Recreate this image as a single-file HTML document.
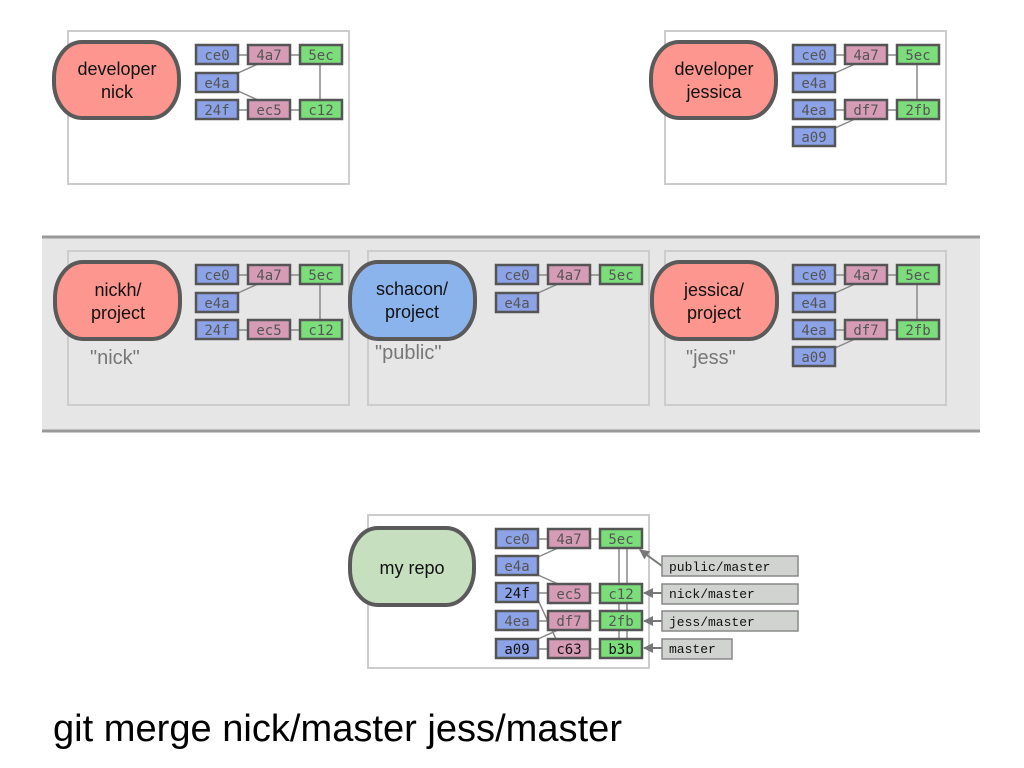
<!DOCTYPE html>
<html><head><meta charset="utf-8"><style>
html,body{margin:0;padding:0;background:#fff;width:1024px;height:768px;overflow:hidden}
svg{display:block}
.c text{font-family:"DejaVu Sans Mono","Liberation Mono",monospace;font-size:14px;fill:#555;text-anchor:middle}
.b{fill:#8ca3e8}.p{fill:#d69cb6}.g{fill:#7bde7b}
.c rect{stroke:#555;stroke-width:2.5}
.ln{stroke:#888;stroke-width:1.5;fill:none}
.blob{stroke:#5a5a5a;stroke-width:4}
.bt{font-family:"Liberation Sans",sans-serif;font-size:18px;fill:#111;text-anchor:middle}
.q{font-family:"Liberation Sans",sans-serif;font-size:20px;fill:#777}
.pan{fill:none;stroke:#ccc;stroke-width:2}
.lab rect{fill:#d0d3cf;stroke:#888;stroke-width:1.5}
.lab text{font-family:"Liberation Mono",monospace;font-size:13px;fill:#111}
</style></head><body>
<svg width="1024" height="768" viewBox="0 0 1024 768">
<defs>
<marker id="ar" markerWidth="10" markerHeight="10" refX="9" refY="5" orient="auto" markerUnits="userSpaceOnUse"><path d="M0,0 L10,5 L0,10 z" fill="#777"/></marker>
</defs>
<rect class="pan" x="68" y="31" width="281" height="153"/>
<rect class="pan" x="665" y="31" width="281" height="153"/>
<rect x="42" y="237" width="938" height="194" fill="#e6e6e6"/>
<line x1="42" y1="237" x2="980" y2="237" stroke="#999" stroke-width="3"/>
<line x1="42" y1="431" x2="980" y2="431" stroke="#999" stroke-width="3"/>
<rect class="pan" x="68" y="251" width="281" height="154"/>
<rect class="pan" x="368" y="251" width="281" height="154"/>
<rect class="pan" x="665" y="251" width="281" height="154"/>
<rect class="pan" x="368" y="515" width="281" height="153"/>

<rect class="blob" x="54" y="42" width="125" height="76" rx="28" ry="36" fill="#fc968e"/>
<text class="bt" x="117" y="75">developer</text><text class="bt" x="117" y="98">nick</text>
<rect class="blob" x="651" y="42" width="125" height="76" rx="28" ry="36" fill="#fc968e"/>
<text class="bt" x="714" y="75">developer</text><text class="bt" x="714" y="98">jessica</text>
<rect class="blob" x="55" y="262" width="125" height="77" rx="28" ry="36" fill="#fc968e"/>
<text class="bt" x="118" y="296">nickh/</text><text class="bt" x="118" y="319">project</text>
<rect class="blob" x="350" y="262" width="125" height="77" rx="28" ry="36" fill="#8cb4ec"/>
<text class="bt" x="412" y="295">schacon/</text><text class="bt" x="412" y="318">project</text>
<rect class="blob" x="652" y="262" width="125" height="77" rx="28" ry="36" fill="#fc968e"/>
<text class="bt" x="714" y="296">jessica/</text><text class="bt" x="714" y="319">project</text>
<rect class="blob" x="350" y="528" width="124" height="77" rx="28" ry="36" fill="#c5dfbf"/>
<text class="bt" x="412" y="574">my repo</text>

<text class="q" x="90" y="364">"nick"</text>
<text class="q" x="375" y="359">"public"</text>
<text class="q" x="686" y="364">"jess"</text>

<g class="ln">
<path d="M238,55H248M290,55H300M238,73L258,64M238,91L258,100M238,110H248M290,110H300M320,64V100"/>
<path d="M835,55H845M887,55H897M835,73L855,64M835,110H845M887,110H897M835,128L855,119M917,64V100"/>
<path d="M238,275H248M290,275H300M238,293L258,284M238,330H248M290,330H300M320,284V320"/>
<path d="M538,275H548M590,275H600M538,293L558,284"/>
<path d="M835,275H845M887,275H897M835,293L855,284M835,330H845M887,330H897M835,348L855,339M917,284V320"/>
<path d="M538,539H548M590,539H600M538,557L558,548M538,575L558,584M538,593H548M590,593H600M538,621H548M590,621H600M538,639L558,630M538,649H548M590,649H600M538,600L556,639"/>
<path d="M619,548V639M627,548V639"/>
</g>

<g class="c">
<rect class="b" x="196" y="45" width="42" height="19"/><text x="217" y="60">ce0</text>
<rect class="p" x="248" y="45" width="42" height="19"/><text x="269" y="60">4a7</text>
<rect class="g" x="300" y="45" width="42" height="19"/><text x="321" y="60">5ec</text>
<rect class="b" x="196" y="73" width="42" height="19"/><text x="217" y="88">e4a</text>
<rect class="b" x="196" y="100" width="42" height="19"/><text x="217" y="115">24f</text>
<rect class="p" x="248" y="100" width="42" height="19"/><text x="269" y="115">ec5</text>
<rect class="g" x="300" y="100" width="42" height="19"/><text x="321" y="115">c12</text>
<rect class="b" x="793" y="45" width="42" height="19"/><text x="814" y="60">ce0</text>
<rect class="p" x="845" y="45" width="42" height="19"/><text x="866" y="60">4a7</text>
<rect class="g" x="897" y="45" width="42" height="19"/><text x="918" y="60">5ec</text>
<rect class="b" x="793" y="73" width="42" height="19"/><text x="814" y="88">e4a</text>
<rect class="b" x="793" y="100" width="42" height="19"/><text x="814" y="115">4ea</text>
<rect class="p" x="845" y="100" width="42" height="19"/><text x="866" y="115">df7</text>
<rect class="g" x="897" y="100" width="42" height="19"/><text x="918" y="115">2fb</text>
<rect class="b" x="793" y="127" width="42" height="19"/><text x="814" y="142">a09</text>
<rect class="b" x="196" y="265" width="42" height="19"/><text x="217" y="280">ce0</text>
<rect class="p" x="248" y="265" width="42" height="19"/><text x="269" y="280">4a7</text>
<rect class="g" x="300" y="265" width="42" height="19"/><text x="321" y="280">5ec</text>
<rect class="b" x="196" y="293" width="42" height="19"/><text x="217" y="308">e4a</text>
<rect class="b" x="196" y="320" width="42" height="19"/><text x="217" y="335">24f</text>
<rect class="p" x="248" y="320" width="42" height="19"/><text x="269" y="335">ec5</text>
<rect class="g" x="300" y="320" width="42" height="19"/><text x="321" y="335">c12</text>
<rect class="b" x="496" y="265" width="42" height="19"/><text x="517" y="280">ce0</text>
<rect class="p" x="548" y="265" width="42" height="19"/><text x="569" y="280">4a7</text>
<rect class="g" x="600" y="265" width="42" height="19"/><text x="621" y="280">5ec</text>
<rect class="b" x="496" y="293" width="42" height="19"/><text x="517" y="308">e4a</text>
<rect class="b" x="793" y="265" width="42" height="19"/><text x="814" y="280">ce0</text>
<rect class="p" x="845" y="265" width="42" height="19"/><text x="866" y="280">4a7</text>
<rect class="g" x="897" y="265" width="42" height="19"/><text x="918" y="280">5ec</text>
<rect class="b" x="793" y="293" width="42" height="19"/><text x="814" y="308">e4a</text>
<rect class="b" x="793" y="320" width="42" height="19"/><text x="814" y="335">4ea</text>
<rect class="p" x="845" y="320" width="42" height="19"/><text x="866" y="335">df7</text>
<rect class="g" x="897" y="320" width="42" height="19"/><text x="918" y="335">2fb</text>
<rect class="b" x="793" y="347" width="42" height="19"/><text x="814" y="362">a09</text>
<rect class="b" x="496" y="529" width="42" height="19"/><text x="517" y="544">ce0</text>
<rect class="p" x="548" y="529" width="42" height="19"/><text x="569" y="544">4a7</text>
<rect class="g" x="600" y="529" width="42" height="19"/><text x="621" y="544">5ec</text>
<rect class="b" x="496" y="556" width="42" height="19"/><text x="517" y="571">e4a</text>
<rect class="b" x="496" y="583" width="42" height="19"/><text x="517" y="598" style="fill:#111">24f</text>
<rect class="p" x="548" y="584" width="42" height="19"/><text x="569" y="599">ec5</text>
<rect class="g" x="600" y="584" width="42" height="19"/><text x="621" y="599">c12</text>
<rect class="b" x="496" y="611" width="42" height="19"/><text x="517" y="626">4ea</text>
<rect class="p" x="548" y="611" width="42" height="19"/><text x="569" y="626">df7</text>
<rect class="g" x="600" y="611" width="42" height="19"/><text x="621" y="626">2fb</text>
<rect class="b" x="496" y="639" width="42" height="19"/><text x="517" y="654" style="fill:#111">a09</text>
<rect class="p" x="548" y="639" width="42" height="19"/><text x="569" y="654" style="fill:#111">c63</text>
<rect class="g" x="600" y="639" width="42" height="19"/><text x="621" y="654" style="fill:#111">b3b</text>
</g>

<g stroke="#777" stroke-width="2" marker-end="url(#ar)">
<line x1="662" y1="566" x2="640" y2="550"/>
<line x1="662" y1="593" x2="644" y2="593"/>
<line x1="662" y1="621" x2="644" y2="621"/>
<line x1="662" y1="648" x2="644" y2="648"/>
</g>
<g class="lab">
<rect x="662" y="556" width="136" height="20"/><text x="669" y="571">public/master</text>
<rect x="662" y="584" width="136" height="20"/><text x="669" y="598">nick/master</text>
<rect x="662" y="611" width="136" height="20"/><text x="669" y="626">jess/master</text>
<rect x="662" y="639" width="70" height="20"/><text x="669" y="653">master</text>
</g>

<text x="53" y="741" textLength="569" lengthAdjust="spacingAndGlyphs" style="font-family:'Liberation Sans',sans-serif;font-size:38px;fill:#000">git merge nick/master jess/master</text>
</svg>
</body></html>
